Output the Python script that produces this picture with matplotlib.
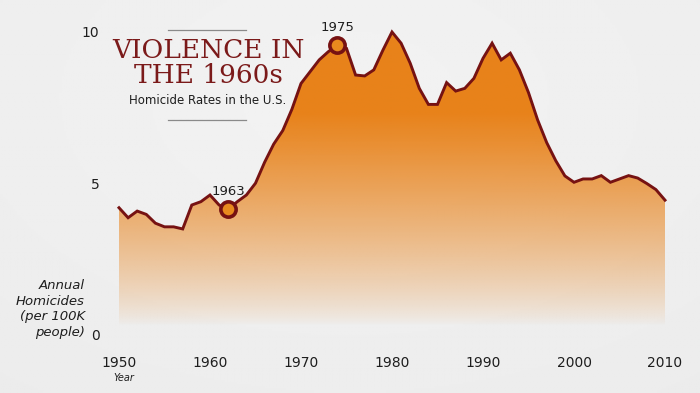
#!/usr/bin/env python
# encoding: utf-8

import numpy as np
from matplotlib import pyplot as plt
from matplotlib.colors import to_rgb

# annual homicides per 100K people
years = np.arange(1950, 2011)
rate = [
    4.20, 3.87, 4.09, 3.98, 3.69, 3.57, 3.57, 3.50, 4.29, 4.40,
    4.62, 4.29, 4.15, 4.40, 4.62, 5.01, 5.70, 6.30, 6.75, 7.45,
    8.30, 8.69, 9.08, 9.35, 9.57, 9.46, 8.58, 8.55, 8.75, 9.40,
    10.0, 9.63, 8.97, 8.14, 7.61, 7.61, 8.33, 8.05, 8.14, 8.47,
    9.13, 9.63, 9.08, 9.30, 8.75, 8.00, 7.10, 6.35, 5.75, 5.25,
    5.04, 5.15, 5.15, 5.26, 5.04, 5.15, 5.26, 5.18, 5.00, 4.80,
    4.45,
]
highlight_years = [1962, 1974]
highlight_labels = ["1963", "1975"]
xticks = [1950, 1960, 1970, 1980, 1990, 2000, 2010]
yticks = [0, 5, 10]

LINE = "#761212"
ORANGE = "#e8821a"
TEXT = "#1e1e1e"

W, H = 700, 393
fig = plt.figure(figsize=(W / 100., H / 100.), dpi=100)
fig.patch.set_facecolor("#ebebea")

# soft paper-like background
bg = fig.add_axes([0, 0, 1, 1], zorder=-10)
gy, gx = np.mgrid[0:1:200j, 0:1:300j]
shade = 0.95 - 0.03 * np.hypot(gx - 0.5, (gy - 0.25) * 0.9)
bg.imshow(shade, cmap="gray", vmin=0, vmax=1, aspect="auto",
          extent=[0, 1, 0, 1])
bg.axis("off")

# axes: value 0 at y=335px, x from 105px to 690px
left, right = 105, 690
bottom_px, top_px = 335, 10
ax = fig.add_axes([left / W, (H - bottom_px) / H,
                   (right - left) / W, (bottom_px - top_px) / H])
ax.patch.set_alpha(0)

px_per_year = 9.1
x0 = 1950 + (left - 119) / px_per_year
x1 = 1950 + (right - 119) / px_per_year
ymax = (bottom_px - top_px) / 30.3
ax.set_xlim(x0, x1)
ax.set_ylim(0, ymax)

# gradient fill under the curve
poly = ax.fill_between(years, rate, 0, color="none", lw=0)
ny = 300
vals = np.linspace(ymax, 0, ny)
alpha = np.clip((vals - 0.3) / 7.0, 0, 1) ** 0.8
img = np.zeros((ny, 2, 4))
img[:, :, :3] = to_rgb(ORANGE)
img[:, :, 3] = alpha[:, None]
im = ax.imshow(img, aspect="auto", extent=[years[0], years[-1], 0, ymax],
               origin="upper", zorder=1)
path = poly.get_paths()[0]
im.set_clip_path(path, transform=ax.transData)

ax.plot(years, rate, "-", color=LINE, lw=2.1, zorder=3,
        solid_joinstyle="miter")

for yr, lab in zip(highlight_years, highlight_labels):
    v = rate[list(years).index(yr)]
    ax.plot([yr], [v], "o", ms=11, mfc="#e88a1e", mec=LINE, mew=2.6,
            zorder=4)
    ax.annotate(lab, (yr, v), xytext=(0, 8), textcoords="offset points",
                ha="center", va="bottom", fontsize=9.5, color=TEXT,
                zorder=5)

ax.set_xticks(xticks)
ax.set_xticklabels([str(t) for t in xticks])
ax.set_yticks(yticks)
ax.tick_params(axis="x", length=0, pad=15, labelsize=10, labelcolor=TEXT)
ax.tick_params(axis="y", length=0, pad=4, labelsize=10, labelcolor=TEXT)
for s in ax.spines.values():
    s.set_visible(False)

fig.text(113 / W, 1 - 378 / H, "Year", fontsize=7, style="italic",
         color=TEXT, ha="left", va="center")
fig.text(85 / W, 1 - 309 / H, "Annual\nHomicides\n(per 100K\npeople)",
         fontsize=9.5, style="italic", color=TEXT, ha="right",
         va="center", linespacing=1.25)

# title block
fig.text(208 / W, 1 - 63 / H, "VIOLENCE IN\nTHE 1960s", family="DejaVu Serif",
         fontsize=19, color="#7b1a1a", ha="center", va="center",
         linespacing=1.0)
fig.text(208 / W, 1 - 100 / H, "Homicide Rates in the U.S.", fontsize=8.5,
         color=TEXT, ha="center", va="center")
for yl in (30, 120):
    fig.add_artist(plt.Line2D([168 / W, 246 / W], [1 - yl / H, 1 - yl / H],
                              color="#8a8a8a", lw=0.9))

fig.savefig("out.png", dpi=100)
